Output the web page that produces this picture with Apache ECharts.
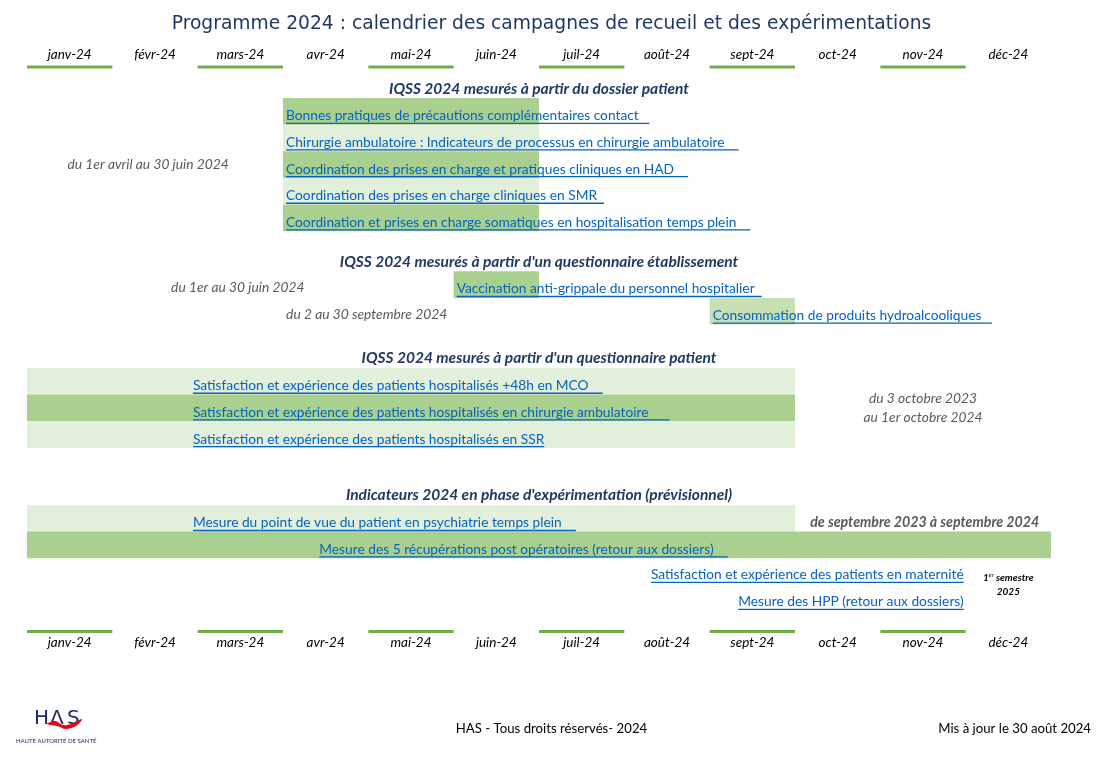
<!DOCTYPE html>
<html><head><meta charset="utf-8">
<script src="https://cdn.jsdelivr.net/npm/echarts@6/dist/echarts.min.js"></script>
<style>html,body{margin:0;padding:0;background:#fff}#c{width:1103px;height:757px}</style>
</head><body><div id="c"></div>
<script>
// ---------- DATA ----------
const months = ['janv-24','févr-24','mars-24','avr-24','mai-24','juin-24','juil-24','août-24','sept-24','oct-24','nov-24','déc-24'];
const sectionTitles = [
  "IQSS 2024 mesurés à partir du dossier patient",
  "IQSS 2024 mesurés à partir d'un questionnaire établissement",
  "IQSS 2024 mesurés à partir d'un questionnaire patient",
  "Indicateurs 2024 en phase d'expérimentation (prévisionnel)"
];
const sectionRows = [-0.34, 6.15, 9.76, 14.9];

const itemLabels = [
  'Bonnes pratiques de précautions complémentaires contact   ',
  'Chirurgie ambulatoire : Indicateurs de processus en chirurgie ambulatoire    ',
  'Coordination des prises en charge et pratiques cliniques en HAD    ',
  'Coordination des prises en charge cliniques en SMR  ',
  'Coordination et prises en charge somatiques en hospitalisation temps plein    ',
  'Vaccination anti-grippale du personnel hospitalier  ',
  'Consommation de produits hydroalcooliques   ',
  'Satisfaction et expérience des patients hospitalisés +48h en MCO    ',
  'Satisfaction et expérience des patients hospitalisés en chirurgie ambulatoire      ',
  'Satisfaction et expérience des patients hospitalisés en SSR',
  'Mesure du point de vue du patient en psychiatrie temps plein    ',
  'Mesure des 5 récupérations post opératoires (retour aux dossiers)    ',
  'Satisfaction et expérience des patients en maternité',
  'Mesure des HPP (retour aux dossiers)'
];
// start / end in months from 1 Jan 2024 (null = no bar)
const itemStart = [3, 3, 3, 3, 3, 5, 8, 0, 0, 0, 0, 0, null, null];
const itemEnd   = [6, 6, 6, 6, 6, 6, 9, 9, 9, 9, 9, 12, null, null];
const itemRow   = [0.5, 1.5, 2.5, 3.5, 4.5, 7.0, 8.0, 10.63, 11.63, 12.63, 15.78, 16.77, 17.73, 18.74];
const itemTone  = ['dark','light','dark','light','dark','dark','mid','light','dark','light','light','dark', null, null];
const itemLabelAt = [3, 3, 3, 3, 3, 5, 8, 1.91, 1.91, 1.91, 1.91, 3.39, 11, 11];
const itemLabelSide = ['start','start','start','start','start','start','start','start','start','start','start','start','end','end'];

const noteTexts = [
  'du 1er avril au 30 juin 2024',
  'du 1er au 30 juin 2024',
  'du 2 au 30 septembre 2024',
  'du 3 octobre 2023',
  'au 1er octobre 2024',
  'de septembre 2023 à septembre 2024'
];
const noteX = [1.42, 2.47, 3.98, 10.5, 10.5, 10.52];
const noteY = [2.51, 7.13, 8.14, 11.26, 12.0, 15.91];
const noteKind = ['plain','plain','plain','plain','plain','bold'];

const semesterNote = ['1', 'er', ' semestre', '2025'];
const semesterX = 11.5, semesterY = [18.01, 18.54];

// ---------- STYLE ----------
const toneColor = {dark: '#a9d08e', light: '#e2efda', mid: '#c6e0b4'};
const linkFont = '13.75px Lato';
const mctx = document.createElement('canvas').getContext('2d');
function textW(t, f){ mctx.font = f; return mctx.measureText(t).width; }

const barData = [];
itemStart.forEach((s, i) => { if (s !== null) barData.push([s, itemEnd[i], itemRow[i], i]); });
const labelData = itemLabels.map((t, i) => [itemLabelAt[i], itemRow[i], i]);
const noteData = noteTexts.map((t, i) => [noteX[i], noteY[i], i]);
const sectionData = sectionTitles.map((t, i) => [6, sectionRows[i], i]);
const underlineData = months.map((m, i) => [i, i + 1]).filter((d, i) => i % 2 === 0);

const chart = echarts.init(document.getElementById('c'));
chart.setOption({
  animation: false,
  title: {
    text: 'Programme 2024 : calendrier des campagnes de recueil et des expérimentations',
    left: 'center', top: 10,
    textStyle: {fontFamily: 'DejaVu Sans', fontSize: 18.7, fontWeight: 'normal', color: '#1f3864'}
  },
  grid: {left: 27, right: 52, top: 98, bottom: 126, containLabel: false},
  xAxis: [
    {type: 'value', min: 0, max: 12, show: false},
    {type: 'category', data: months, position: 'top', offset: 31, boundaryGap: true,
     axisLine: {show: false}, axisTick: {show: false},
     axisLabel: {margin: 5, fontFamily: 'Lato', fontStyle: 'italic', fontSize: 13.5, color: '#000'}},
    {type: 'category', data: months, position: 'bottom', boundaryGap: true,
     axisLine: {show: false}, axisTick: {show: false},
     axisLabel: {margin: 5, fontFamily: 'Lato', fontStyle: 'italic', fontSize: 13.5, color: '#000'}}
  ],
  yAxis: {type: 'value', min: 0, max: 20, inverse: true, show: false},
  series: [
    { // bars
      type: 'custom', clip: false, xAxisIndex: 0,
      data: barData,
      renderItem: (p, api) => {
        const a = api.coord([api.value(0), api.value(2)]);
        const b = api.coord([api.value(1), api.value(2)]);
        const h = api.size([0, 1])[1];
        return {type: 'rect', shape: {x: a[0], y: a[1] - h / 2, width: b[0] - a[0], height: h},
                style: {fill: toneColor[itemTone[api.value(3)]]}};
      }
    },
    { // header underlines
      type: 'custom', clip: false, xAxisIndex: 0,
      data: underlineData,
      renderItem: (p, api) => {
        const top = api.coord([api.value(0), 0]);
        const end = api.coord([api.value(1), 20]);
        return {type: 'group', children: [
          {type: 'rect', shape: {x: top[0], y: top[1] - 32.5, width: end[0] - top[0], height: 3}, style: {fill: '#70ad47'}},
          {type: 'rect', shape: {x: top[0], y: end[1] - 1, width: end[0] - top[0], height: 3}, style: {fill: '#70ad47'}}
        ]};
      }
    },
    { // link labels
      type: 'custom', clip: false, xAxisIndex: 0, z: 5,
      data: labelData,
      renderItem: (p, api) => {
        const i = api.value(2);
        const pt = api.coord([api.value(0), api.value(1)]);
        const w = textW(itemLabels[i], linkFont);
        const x0 = itemLabelSide[i] === 'end' ? pt[0] - w - 2 : pt[0] + 3;
        return {type: 'group', children: [
          {type: 'text', style: {x: x0, y: pt[1] + 4.5, text: itemLabels[i], font: linkFont, fill: '#0563c1', align: 'left', verticalAlign: 'middle'}},
          {type: 'rect', shape: {x: x0, y: pt[1] + 11.3, width: w, height: 1.3}, style: {fill: '#0563c1'}}
        ]};
      }
    },
    { // section titles
      type: 'custom', clip: false, xAxisIndex: 0, z: 5,
      data: sectionData,
      renderItem: (p, api) => {
        const pt = api.coord([api.value(0), api.value(1)]);
        return {type: 'text', style: {x: pt[0], y: pt[1], text: sectionTitles[api.value(2)],
          font: 'italic bold 15.5px Lato', fill: '#1f3864', align: 'center', verticalAlign: 'middle'}};
      }
    },
    { // period notes
      type: 'custom', clip: false, xAxisIndex: 0, z: 5,
      data: noteData,
      renderItem: (p, api) => {
        const i = api.value(2);
        const pt = api.coord([api.value(0), api.value(1)]);
        const bold = noteKind[i] === 'bold';
        return {type: 'text', style: {x: pt[0], y: pt[1], text: noteTexts[i],
          font: (bold ? 'italic bold 14.2px Lato' : 'italic 13.8px Lato'), fill: '#595959', align: 'center', verticalAlign: 'middle'}};
      }
    },
    { // 1er semestre 2025
      type: 'custom', clip: false, xAxisIndex: 0, z: 5,
      data: [[semesterX, semesterY[0], semesterY[1]]],
      renderItem: (p, api) => {
        const a = api.coord([api.value(0), api.value(1)]);
        const b = api.coord([api.value(0), api.value(2)]);
        return {type: 'group', children: [
          {type: 'text', style: {x: a[0], y: a[1], text: '{n|' + semesterNote[0] + '}{s|' + semesterNote[1] + '}{n|' + semesterNote[2] + '}',
            align: 'center', verticalAlign: 'middle',
            rich: {n: {fontFamily: 'Lato', fontStyle: 'italic', fontWeight: 'bold', fontSize: 10, color: '#000'},
                   s: {fontFamily: 'Lato', fontStyle: 'italic', fontSize: 6, color: '#000', verticalAlign: 'top', padding: [0,0,6,0]}}}},
          {type: 'text', style: {x: b[0], y: b[1], text: semesterNote[3], font: 'italic bold 10px Lato', fill: '#000', align: 'center', verticalAlign: 'middle'}}
        ]};
      }
    }
  ],
  graphic: [
    {type: 'text', left: 'center', top: 722, style: {text: 'HAS - Tous droits réservés- 2024', font: '13.2px Lato', fill: '#000'}},
    {type: 'text', right: 12, top: 722, style: {text: 'Mis à jour le 30 août 2024', font: '13.2px Lato', fill: '#000'}},
    {type: 'text', left: 34, top: 709, style: {text: 'H', font: '20px DejaVu Sans', fill: '#1f2a6b'}},
    {type: 'text', left: 50, top: 709, style: {text: 'Λ', font: '20px DejaVu Sans', fill: '#1f2a6b'}},
    {type: 'text', left: 67, top: 709, style: {text: 'S', font: '20px DejaVu Sans', fill: '#1f2a6b'}},
    {type: 'polygon', shape: {points: [[47, 724], [55, 721], [63, 725], [71, 724], [82, 719], [76, 726], [66, 729], [57, 726]], smooth: 0.4}, style: {fill: '#e30613'}},
    {type: 'text', left: 16, top: 738, style: {text: 'HAUTE AUTORITÉ DE SANTÉ', font: '6px Lato', fill: '#1f2a6b'}}
  ]
});
</script>
</body></html>
